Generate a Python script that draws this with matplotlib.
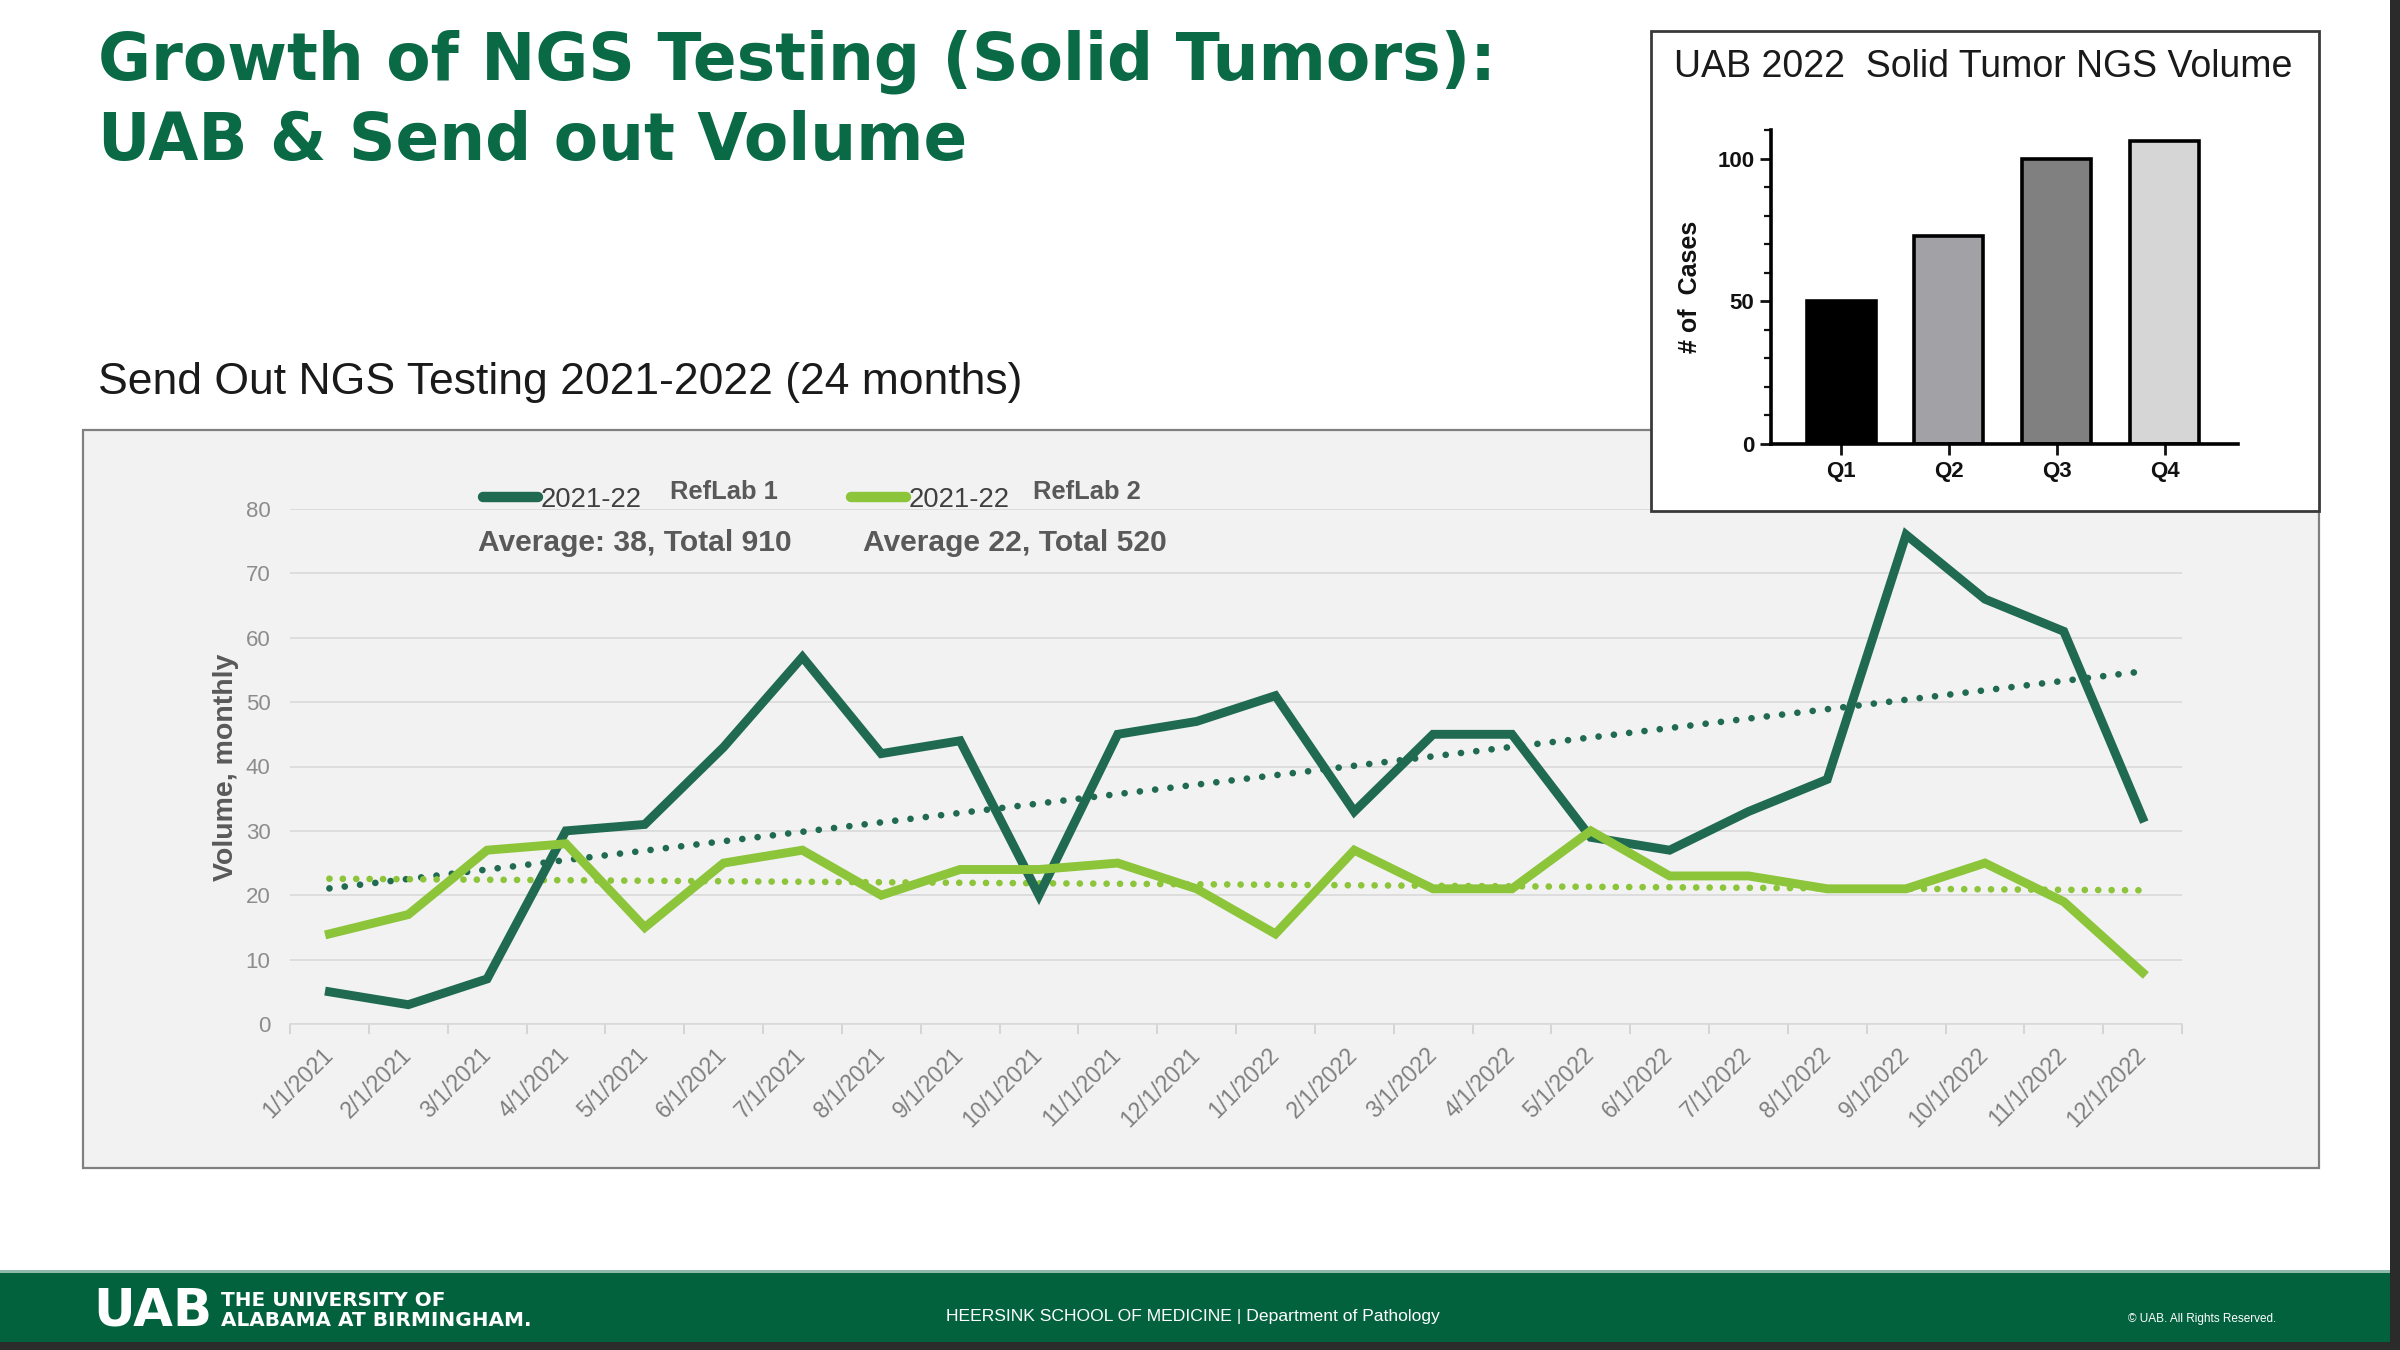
import matplotlib
matplotlib.use("Agg")
import matplotlib.pyplot as plt
import numpy as np
from matplotlib.patches import Rectangle
from matplotlib.ticker import MultipleLocator, FixedLocator

plt.rcParams['font.family'] = ['Liberation Sans', 'DejaVu Sans']

# monthly send-out volumes (Jan 2021 - Dec 2022)
months = ['1/1/2021', '2/1/2021', '3/1/2021', '4/1/2021', '5/1/2021', '6/1/2021',
          '7/1/2021', '8/1/2021', '9/1/2021', '10/1/2021', '11/1/2021', '12/1/2021',
          '1/1/2022', '2/1/2022', '3/1/2022', '4/1/2022', '5/1/2022', '6/1/2022',
          '7/1/2022', '8/1/2022', '9/1/2022', '10/1/2022', '11/1/2022', '12/1/2022']
reflab1 = [5, 3, 7, 30, 31, 43, 57, 42, 44, 20, 45, 47,
           51, 33, 45, 45, 29, 27, 33, 38, 76, 66, 61, 32]
reflab2 = [14, 17, 27, 28, 15, 25, 27, 20, 24, 24, 25, 21,
           14, 27, 21, 21, 30, 23, 23, 21, 21, 25, 19, 8]

# UAB in-house quarterly volume 2022
quarters = ['Q1', 'Q2', 'Q3', 'Q4']
uab_cases = [50, 73, 100, 106]
bar_colors = ['#000000', '#a2a2a6', '#808080', '#d6d6d6']

DARK = '#1f6a51'
LIGHT = '#8cc43a'
TITLE_GREEN = '#0a6a45'

W, H = 2400, 1350
fig = plt.figure(figsize=(24, 13.5), dpi=100)


def fx(px):
    return px / W


def fy(py):
    return 1 - py / H


# title block
fig.text(fx(98), fy(80), 'Growth of NGS Testing (Solid Tumors):', family='DejaVu Sans',
         fontsize=46.5, fontweight='bold', color=TITLE_GREEN, va='baseline')
fig.text(fx(98), fy(160), 'UAB & Send out Volume', family='DejaVu Sans',
         fontsize=46.5, fontweight='bold', color=TITLE_GREEN, va='baseline')
fig.text(fx(98), fy(394), 'Send Out NGS Testing 2021-2022 (24 months)',
         fontsize=32, color='#1a1a1a', va='baseline')

# grey panel behind the line chart
fig.patches.append(Rectangle((fx(83), fy(1168)), fx(2319) - fx(83), fy(430) - fy(1168),
                             transform=fig.transFigure, facecolor='#f2f2f2',
                             edgecolor='#808080', linewidth=1.6, zorder=0))

# ---- main line chart ----
ax = fig.add_axes([fx(290), fy(1024), fx(2182) - fx(290), fy(509) - fy(1024)], zorder=2)
ax.set_facecolor('none')
x = np.arange(len(months))

ax.grid(axis='y', color='#d9d9d9', linewidth=1.2, zorder=0)
ax.set_axisbelow(True)

fit1 = np.polyval(np.polyfit(x, reflab1, 1), x)
fit2 = np.polyval(np.polyfit(x, reflab2, 1), x)
ax.plot(x, fit1, color=DARK, linewidth=4.8, linestyle=(0, (0.01, 2.3)),
        dash_capstyle='round', zorder=2)
ax.plot(x, fit2, color=LIGHT, linewidth=4.8, linestyle=(0, (0.01, 2.0)),
        dash_capstyle='round', zorder=2)
l1, = ax.plot(x, reflab1, color=DARK, linewidth=6.4, solid_joinstyle='miter', zorder=3)
l2, = ax.plot(x, reflab2, color=LIGHT, linewidth=6.4, solid_joinstyle='miter', zorder=4)

ax.set_xlim(-0.5, len(months) - 0.5)
ax.set_ylim(0, 80)
ax.yaxis.set_major_locator(MultipleLocator(10))
ax.set_xticks(x)
ax.set_xticklabels(months, rotation=45, ha='right', va='center', rotation_mode='anchor')
ax.xaxis.set_minor_locator(FixedLocator(np.arange(-0.5, len(months), 1)))
ax.tick_params(axis='x', which='major', length=0, pad=20, labelsize=16.5, labelcolor='#7f7f7f')
ax.tick_params(axis='x', which='minor', length=7, width=1.2, color='#d0d0d0')
ax.tick_params(axis='y', length=0, pad=14, labelsize=16, labelcolor='#8c8c8c')
for s in ['top', 'right', 'left']:
    ax.spines[s].set_visible(False)
ax.spines['bottom'].set_color('#d9d9d9')
ax.spines['bottom'].set_linewidth(1.2)

fig.text(fx(226), fy(767), 'Volume, monthly', rotation=90, ha='center', va='center',
         fontsize=20.5, fontweight='bold', color='#595959', zorder=3)

# legend entries
for handle, lx in [(l1, 483), (l2, 851)]:
    leg = fig.legend(handles=[handle], labels=['2021-22'], loc='center left',
                     bbox_to_anchor=(fx(lx), fy(500)), frameon=False, borderpad=0,
                     borderaxespad=0, handlelength=2.0, handletextpad=0.08,
                     prop={'size': 19.8}, labelcolor='#404040')
    leg.set_zorder(3)
    for lh in leg.get_lines():
        lh.set_linewidth(7.5)
        lh.set_solid_capstyle('round')
fig.text(fx(670), fy(492), 'RefLab 1', fontsize=18.4, fontweight='bold',
         color='#595959', va='center', zorder=3)
fig.text(fx(1033), fy(492), 'RefLab 2', fontsize=18.4, fontweight='bold',
         color='#595959', va='center', zorder=3)
fig.text(fx(478), fy(543), 'Average: 38, Total 910', fontsize=21.6, fontweight='bold',
         color='#595959', va='center', zorder=3)
fig.text(fx(863), fy(543), 'Average 22, Total 520', fontsize=21.6, fontweight='bold',
         color='#595959', va='center', zorder=3)

# ---- inset bar chart ----
fig.patches.append(Rectangle((fx(1651), fy(511)), fx(2319) - fx(1651), fy(31) - fy(511),
                             transform=fig.transFigure, facecolor='white',
                             edgecolor='#3a3a3a', linewidth=2, zorder=5))
fig.text((fx(1671) + fx(2296)) / 2, fy(67), 'UAB 2022  Solid Tumor NGS Volume',
         ha='center', va='center', fontsize=27, color='#1a1a1a', zorder=6)

bx = fig.add_axes([fx(1771), fy(444), fx(2238) - fx(1771), fy(130) - fy(444)], zorder=6)
bx.set_facecolor('none')
bx.bar(np.arange(len(quarters)), uab_cases, width=0.64, color=bar_colors,
       edgecolor='black', linewidth=2.6)
bx.set_xlim(-0.65, 3.68)
bx.set_ylim(0, 110)
bx.set_xticks(np.arange(len(quarters)))
bx.set_xticklabels(quarters)
bx.yaxis.set_major_locator(FixedLocator([0, 50, 100]))
bx.yaxis.set_minor_locator(MultipleLocator(10))
bx.tick_params(axis='both', which='major', length=8, width=2, labelsize=16,
               colors='#111111', pad=4)
bx.tick_params(axis='y', which='minor', length=5, width=1.6, color='#111111')
for lab in bx.get_xticklabels() + bx.get_yticklabels():
    lab.set_fontweight('bold')
for s in ['top', 'right']:
    bx.spines[s].set_visible(False)
for s in ['left', 'bottom']:
    bx.spines[s].set_linewidth(2.6)
fig.text(fx(1690), fy(287), '# of  Cases', rotation=90, ha='center', va='center',
         fontsize=18, fontweight='bold', color='#111111', zorder=6)

# ---- footer band ----
fig.patches.append(Rectangle((0, 0), 1, fy(1271), transform=fig.transFigure,
                             facecolor='#03623e', edgecolor='none', zorder=1))
fig.patches.append(Rectangle((0, fy(1273)), 1, fy(1270) - fy(1273), transform=fig.transFigure,
                             facecolor='#8fb9a8', edgecolor='none', zorder=1))
fig.patches.append(Rectangle((0, 0), 1, fy(1342), transform=fig.transFigure,
                             facecolor='#2b2b2b', edgecolor='none', zorder=2))
fig.patches.append(Rectangle((fx(2390), 0), 1 - fx(2390), 1, transform=fig.transFigure,
                             facecolor='#2b2b2b', edgecolor='none', zorder=7))
fig.text(fx(93), fy(1311), 'UAB', family='DejaVu Sans', fontsize=37, fontweight='bold',
         color='white', va='center', ha='left', zorder=3)
fig.text(fx(221), fy(1300), 'THE UNIVERSITY OF', family='DejaVu Sans', fontsize=14.4,
         fontweight='bold', color='white', va='center', zorder=3)
fig.text(fx(221), fy(1320), 'ALABAMA AT BIRMINGHAM.', family='DejaVu Sans', fontsize=14.4,
         fontweight='bold', color='white', va='center', zorder=3)
fig.text(fx(1193), fy(1316), 'HEERSINK SCHOOL OF MEDICINE | Department of Pathology',
         fontsize=12.6, color='white', ha='center', va='center', zorder=3)
fig.text(fx(2202), fy(1319), '\u00a9 UAB. All Rights Reserved.', fontsize=8.5,
         color='white', ha='center', va='center', zorder=3)

fig.savefig('out.png', dpi=100, facecolor='white')
